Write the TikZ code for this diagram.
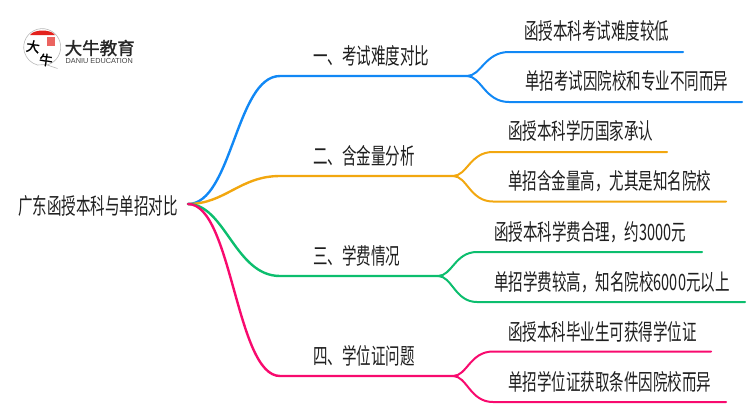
\documentclass[tikz,border=0pt]{standalone}
\usepackage{fontspec}
\setmainfont{Liberation Sans}
\newfontfamily\cjk[FakeStretch=0.645]{Noto Sans CJK SC}
\newfontfamily\cjklogo[FakeBold=1.5]{Noto Sans CJK SC}
\usetikzlibrary{positioning}
\usetikzlibrary{calc}
\definecolor{bluebr}{HTML}{1188F5}
\definecolor{orangebr}{HTML}{F2A70F}
\definecolor{greenbr}{HTML}{0CBE6E}
\definecolor{pinkbr}{HTML}{F80A6E}
\definecolor{logored}{HTML}{E3211C}
\definecolor{inkc}{HTML}{1E1E1E}
\tikzset{
  txt/.style={anchor=west,inner sep=0pt,text=inkc,font=\fontsize{22.5}{25}\selectfont\cjk},
  main/.style={line width=2.4pt,line cap=round},
  leaf/.style={line width=2pt,line cap=round},
  brush/.style={inner sep=0pt,text=black,rotate=-8,font=\fontsize{13.5}{13.5}\selectfont\cjklogo},
}
\begin{document}
\begin{tikzpicture}[x=1pt,y=-1pt]
\useasboundingbox (0,0) rectangle (750,410);

%logo
\draw[gray!55,line width=0.6pt,fill=white] (47,65) arc (75:-255:18.5) -- (46,64.5) -- (57.5,68.5) -- cycle;
\fill[logored] (30,35) .. controls (34,29) and (51,29) .. (55,35) -- cycle;
\fill[logored!70] (47,37) rectangle (55,46);
\node[brush] (logoa) at (33,46.5) {大};
\node[brush] (logob) at (46,60) {牛};
\node[anchor=west,inner sep=0pt,text=black!85,font=\fontsize{17.5}{18}\selectfont\cjklogo] (logoname) at (64.5,48) {大牛教育};
\node[anchor=west,inner sep=0pt,text=black!75,font=\fontsize{7.3}{8}\selectfont] (logosub) at (65.5,60.5) {DANIU EDUCATION};

%text
\node[txt] (root) at (18,206) {广东函授本科与单招对比};
\node[txt] (topicA) at (313,56) {一、考试难度对比};
\node[txt] (topicB) at (313,156) {二、含金量分析};
\node[txt] (topicC) at (313,256) {三、学费情况};
\node[txt] (topicD) at (313,356) {四、学位证问题};
\node[txt] (leafAa) at (524,31) {函授本科考试难度较低};
\node[txt] (leafAb) at (525,81) {单招考试因院校和专业不同而异};
\node[txt] (leafBa) at (508,131) {函授本科学历国家承认};
\node[txt] (leafBb) at (508,181) {单招含金量高，尤其是知名院校};
\node[txt] (leafCa) at (494,232) {函授本科学费合理，约3000元};
\node[txt] (leafCb) at (494,282) {单招学费较高，知名院校6000元以上};
\node[txt] (leafDa) at (508,332) {函授本科毕业生可获得学位证};
\node[txt] (leafDb) at (508,382) {单招学位证获取条件因院校而异};

%points on the lines
\coordinate (start) at (188,204);
\coordinate (bendA) at (280,76);
\coordinate (bendB) at (280,176);
\coordinate (bendC) at (280,276);
\coordinate (bendD) at (280,376);
\coordinate (forkA) at (467,76);
\coordinate (forkB) at (453,176);
\coordinate (forkC) at (438,276);
\coordinate (forkD) at (453,376);
\coordinate (endAa) at (683,52);
\coordinate (endAb) at (742,102);
\coordinate (endBa) at (667,152);
\coordinate (endBb) at (726,201.5);
\coordinate (endCa) at (702,252);
\coordinate (endCb) at (745,302);
\coordinate (endDa) at (711,351.5);
\coordinate (endDb) at (726,402);

%first level
\draw[main,bluebr] (start) .. controls (232,204) and (236,76) .. (bendA) -- (forkA);
\draw[main,orangebr] (start) .. controls (225,204) and (240,176) .. (bendB) -- (forkB);
\draw[main,greenbr] (start) .. controls (225,204) and (235,276) .. (bendC) -- (forkC);
\draw[main,pinkbr] (start) .. controls (232,204) and (236,376) .. (bendD) -- (forkD);

%second level
\draw[leaf,bluebr] (forkA) .. controls (481,76) and (485,52) .. (509,52) -- (endAa);
\draw[leaf,bluebr] (forkA) .. controls (481,76) and (485,102) .. (509,102) -- (endAb);
\draw[leaf,orangebr] (forkB) .. controls (467,176) and (470,152) .. (493,152) -- (endBa);
\draw[leaf,orangebr] (forkB) .. controls (467,176) and (470,201.5) .. (493,201.5) -- (endBb);
\draw[leaf,greenbr] (forkC) .. controls (452,276) and (455,252) .. (477,252) -- (endCa);
\draw[leaf,greenbr] (forkC) .. controls (452,276) and (455,302) .. (477,302) -- (endCb);
\draw[leaf,pinkbr] (forkD) .. controls (467,376) and (470,351.5) .. (493,351.5) -- (endDa);
\draw[leaf,pinkbr] (forkD) .. controls (467,376) and (470,402) .. (493,402) -- (endDb);
\end{tikzpicture}
\end{document}
